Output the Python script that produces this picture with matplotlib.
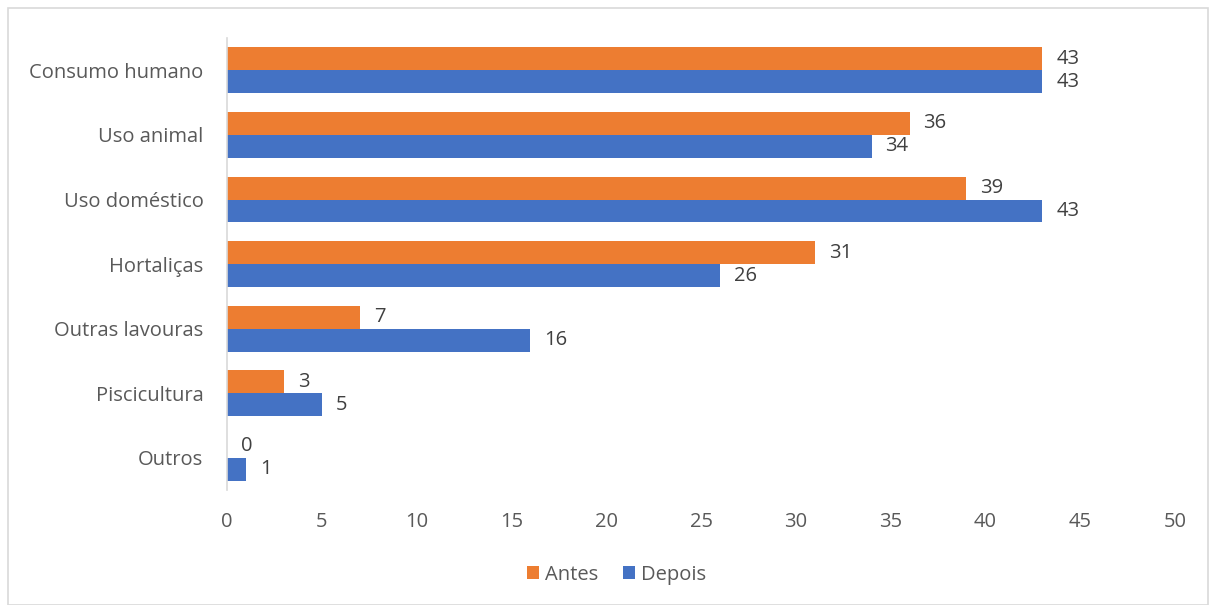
import numpy as np
import matplotlib.pyplot as plt
from matplotlib.patches import Rectangle

categorias = ["Consumo humano", "Uso animal", "Uso doméstico", "Hortaliças",
              "Outras lavouras", "Piscicultura", "Outros"]
antes = [43, 36, 39, 31, 7, 3, 0]
depois = [43, 34, 43, 26, 16, 5, 1]

laranja = "#ED7D31"
azul = "#4472C4"
cinza = "#595959"

plt.rcParams['font.family'] = ['Open Sans', 'DejaVu Sans']

fig = plt.figure(figsize=(12.16, 6.05), dpi=100)
ax = fig.add_axes([0.1867, 0.19, 0.7796, 0.747])

y = np.arange(len(categorias))[::-1]
h = 0.355
b1 = ax.barh(y + h / 2, antes, height=h, color=laranja, label="Antes")
b2 = ax.barh(y - h / 2, depois, height=h, color=azul, label="Depois")

for barras, vals in ((b1, antes), (b2, depois)):
    for r, v in zip(barras, vals):
        ax.annotate(str(v), (r.get_width(), r.get_y() + r.get_height() / 2),
                    xytext=(10, 0), textcoords="offset points",
                    va="center", ha="left", fontsize=14.5, color="#404040")

ax.set_xlim(0, 50)
ax.set_ylim(-0.5, len(categorias) - 0.5)
ax.set_xticks(range(0, 51, 5))
ax.set_yticks(y)
ax.set_yticklabels(categorias)
ax.tick_params(axis="both", length=0, labelsize=14.5, labelcolor=cinza)
ax.tick_params(axis="x", pad=16)
ax.tick_params(axis="y", pad=17)
for s in ("top", "right", "bottom"):
    ax.spines[s].set_visible(False)
ax.spines["left"].set_color("#D9D9D9")
ax.spines["left"].set_linewidth(1.2)

leg = fig.legend(handles=[b1, b2], loc="center", bbox_to_anchor=(0.507, 0.05),
                 ncol=2, frameon=False, fontsize=14.5, handlelength=0.6,
                 handleheight=0.6, columnspacing=1.2, handletextpad=0.3)
for t in leg.get_texts():
    t.set_color(cinza)

# moldura do gráfico
fig.patches.append(Rectangle((8 / 1216, 0.0), 1 - 16 / 1216, 1 - 8 / 605,
                             transform=fig.transFigure, fill=False,
                             edgecolor="#D9D9D9", linewidth=1.2))

fig.savefig("out.png", dpi=100)
